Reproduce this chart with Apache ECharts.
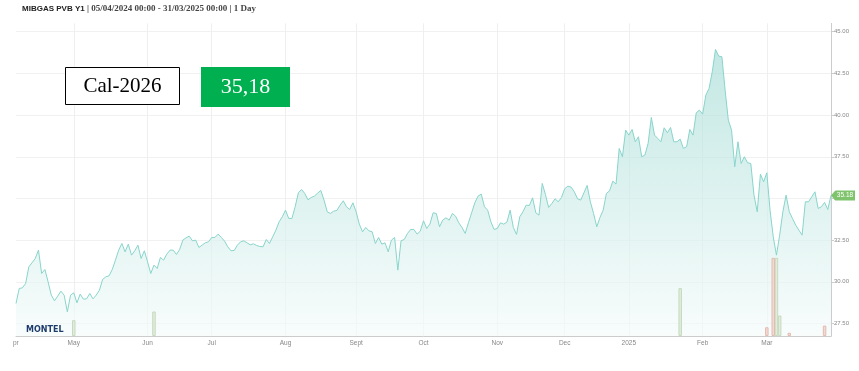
<!DOCTYPE html>
<html><head><meta charset="utf-8">
<script src="https://cdn.jsdelivr.net/npm/echarts@6/dist/echarts.min.js"></script>
<style>html,body{margin:0;padding:0;background:#fff}#c{width:859px;height:371px}</style>
</head><body><div id="c"></div>
<script>
// ---- data ----
const startDate = '2024-04-05';
const endDate = '2025-03-31';
const holidays = ['2024-12-25', '2024-12-26'];
const prices = [
 28.70,29.60,29.64,29.90,30.90,31.14,31.40,31.90,30.50,30.74,
 30.00,29.20,28.86,29.14,29.44,29.20,28.20,29.20,29.34,28.74,
 29.26,28.96,28.98,29.30,28.98,29.20,29.50,30.14,30.30,30.36,
 30.74,31.30,31.90,32.30,31.80,32.26,31.60,31.86,32.20,31.40,
 31.86,31.20,30.50,31.00,30.80,31.46,31.30,31.66,31.90,31.90,
 31.64,31.94,32.50,32.64,32.74,32.46,32.50,32.06,32.20,32.34,
 32.40,32.66,32.66,32.86,32.66,32.44,32.10,31.86,31.88,32.20,
 32.40,32.46,32.34,32.22,32.28,32.18,32.12,32.10,32.54,32.30,
 32.70,33.10,33.60,33.90,34.30,33.80,33.80,34.50,35.34,35.54,
 35.30,34.92,35.06,35.14,35.32,35.48,34.90,34.20,34.10,34.24,
 34.28,34.60,34.86,34.50,34.34,34.74,34.20,33.46,33.00,33.26,
 33.06,33.00,32.30,32.66,32.26,32.34,31.80,32.50,32.66,30.70,
 32.46,32.54,32.90,33.14,33.14,32.86,33.04,33.66,33.20,33.46,
 34.14,34.10,33.30,33.70,33.84,33.70,34.10,33.94,33.54,33.26,
 32.90,33.54,34.14,34.74,35.14,35.26,34.50,34.30,33.60,33.14,
 33.20,33.54,33.46,33.58,34.30,33.26,32.84,33.90,34.20,34.60,
 34.58,35.04,34.14,34.00,35.90,35.24,34.46,34.70,34.98,34.80,
 35.06,35.58,35.74,35.68,35.40,34.98,34.90,35.34,35.78,34.80,
 34.10,33.30,33.86,34.30,35.30,35.46,36.04,35.86,38.00,37.50,
 39.10,38.80,39.14,38.40,38.70,37.50,37.60,38.30,39.86,38.80,
 38.60,38.40,39.24,38.94,39.26,38.40,38.40,38.56,38.00,38.10,
 39.14,38.80,40.14,40.30,40.06,41.20,41.60,42.60,43.94,43.54,
 43.50,41.50,39.70,39.10,36.90,38.40,37.10,37.50,37.14,37.10,
 35.20,34.20,36.46,36.00,36.54,34.30,32.70,31.60,32.80,34.20,
 35.20,34.20,33.80,33.40,33.10,32.80,34.80,34.80,35.10,35.40,
 34.40,34.50,34.76,34.34,35.18
];
const buyBarDates = ['2024-05-01', '2024-06-05', '2025-01-23', '2025-03-06', '2025-03-07'];
const buyBarValues = [15.2, 23.5, 46, 75, 19.7];
const sellBarDates = ['2025-03-03', '2025-03-05', '2025-03-12', '2025-03-27'];
const sellBarValues = [8.4, 75, 3.1, 10];
const yTickValues = [27.5, 30, 32.5, 35, 37.5, 40, 42.5, 45];
const monthNames = ['Jan','Feb','Mar','Apr','May','Jun','Jul','Aug','Sept','Oct','Nov','Dec'];
const titleName = 'MIBGAS PVB Y1';
const titleRange = ' | 05/04/2024 00:00 - 31/03/2025 00:00 | 1 Day';
const contractLabel = 'Cal-2026';
const priceLabel = '35,18';

// ---- build category dates (trading days) ----
const dates = [];
(function () {
  const d = new Date(startDate + 'T00:00:00Z');
  const end = new Date(endDate + 'T00:00:00Z');
  while (d <= end) {
    const s = d.toISOString().slice(0, 10);
    const wd = d.getUTCDay();
    if (wd !== 0 && wd !== 6 && holidays.indexOf(s) < 0) dates.push(s);
    d.setUTCDate(d.getUTCDate() + 1);
  }
})();
function barData(bd, bv) {
  const arr = dates.map(() => null);
  bd.forEach((d, k) => { const i = dates.indexOf(d); if (i >= 0) arr[i] = bv[k]; });
  return arr;
}
function isMonthStart(i) {
  return i > 0 && dates[i] && dates[i - 1] && dates[i].slice(0, 7) !== dates[i - 1].slice(0, 7);
}
const last = prices.length - 1;

const chart = echarts.init(document.getElementById('c'), null, { renderer: 'canvas' });
chart.setOption({
  animation: false,
  title: {
    left: 22, top: 4, padding: 0,
    text: '{b|' + titleName + '}{n|' + titleRange + '}',
    textStyle: {
      rich: {
        b: { fontFamily: 'Liberation Sans', fontWeight: 'bold', fontSize: 8, color: '#222' },
        n: { fontFamily: 'Liberation Serif', fontSize: 9, color: '#444' }
      }
    }
  },
  grid: { left: 16, right: 28, top: 23.4, bottom: 35, containLabel: false },
  xAxis: {
    type: 'category', data: dates, boundaryGap: false,
    axisLine: { lineStyle: { color: '#cccccc' } },
    axisTick: { show: false },
    axisLabel: {
      interval: (i) => isMonthStart(i),
      formatter: (v) => { const m = +v.slice(5, 7); return m === 1 ? v.slice(0, 4) : monthNames[m - 1]; },
      fontFamily: 'Liberation Sans', fontSize: 6.5, color: '#888', margin: 4
    },
    splitLine: { show: true, interval: (i) => isMonthStart(i), lineStyle: { color: '#efefef', width: 1 } }
  },
  yAxis: [{
    type: 'value', position: 'right', min: 26.75, max: 45.5,
    axisLine: { show: true, lineStyle: { color: '#cccccc' } },
    axisTick: { show: true, length: 3, lineStyle: { color: '#cccccc' }, customValues: yTickValues },
    axisLabel: {
      customValues: yTickValues, formatter: (v) => v.toFixed(2),
      fontFamily: 'Liberation Sans', fontSize: 6, color: '#888', margin: 3
    },
    splitLine: { show: true, lineStyle: { color: '#f1f1f1' } }
  }, {
    type: 'value', min: 0, max: 300, show: false
  }],
  series: [{
    type: 'line', data: prices, symbol: 'none', smooth: false,
    lineStyle: { color: '#88d4cb', width: 1 },
    areaStyle: {
      color: new echarts.graphic.LinearGradient(0, 0, 0, 1, [
        { offset: 0, color: '#a9ddd7' }, { offset: 1, color: '#f4fbfa' }
      ])
    },
    z: 2,
    markPoint: {
      symbol: 'path://M0,5 L5,0 L28,0 L28,10 L5,10 Z',
      symbolSize: [24, 10], symbolKeepAspect: false, symbolOffset: [12, 0],
      itemStyle: { color: '#7fc36c' },
      label: { show: true, position: 'inside', offset: [2, 0], color: '#fff', fontSize: 6.5,
        fontFamily: 'Liberation Sans', formatter: (p) => (+p.value).toFixed(2) },
      data: [{ coord: [dates[last], prices[last]], value: prices[last] }]
    }
  }, {
    type: 'bar', yAxisIndex: 1, data: barData(buyBarDates, buyBarValues),
    barWidth: 3.5, barGap: '-100%',
    itemStyle: { color: '#e1ecdc', borderColor: '#c6dabf', borderWidth: 1 }, z: 3
  }, {
    type: 'bar', yAxisIndex: 1, data: barData(sellBarDates, sellBarValues),
    barWidth: 3.5, barGap: '-100%',
    itemStyle: { color: '#f2d9d2', borderColor: '#e3bcb2', borderWidth: 1 }, z: 3
  }],
  graphic: [
    { type: 'text', left: 13, top: 340, z: 100,
      style: { text: 'pr', fontFamily: 'Liberation Sans', fontSize: 6.5, fill: '#888' } },
    { type: 'text', left: 26, top: 326, z: 100,
      style: { text: 'MONTEL', fontFamily: 'DejaVu Sans', fontWeight: 'bold', fontSize: 8, fill: '#1d3b6b' } },
    { type: 'rect', z: 100, shape: { x: 65.5, y: 67.5, width: 114, height: 37 },
      style: { fill: '#fff', stroke: '#000', lineWidth: 1 } },
    { type: 'text', z: 101, x: 122.5, y: 86,
      style: { text: contractLabel, fontFamily: 'Liberation Serif', fontSize: 21, fill: '#000',
        align: 'center', verticalAlign: 'middle' } },
    { type: 'rect', z: 100, shape: { x: 201, y: 67, width: 89, height: 40 },
      style: { fill: '#00b050' } },
    { type: 'text', z: 101, x: 245.5, y: 87,
      style: { text: priceLabel, fontFamily: 'Liberation Serif', fontSize: 22, fill: '#fff',
        align: 'center', verticalAlign: 'middle' } }
  ]
});
</script></body></html>
